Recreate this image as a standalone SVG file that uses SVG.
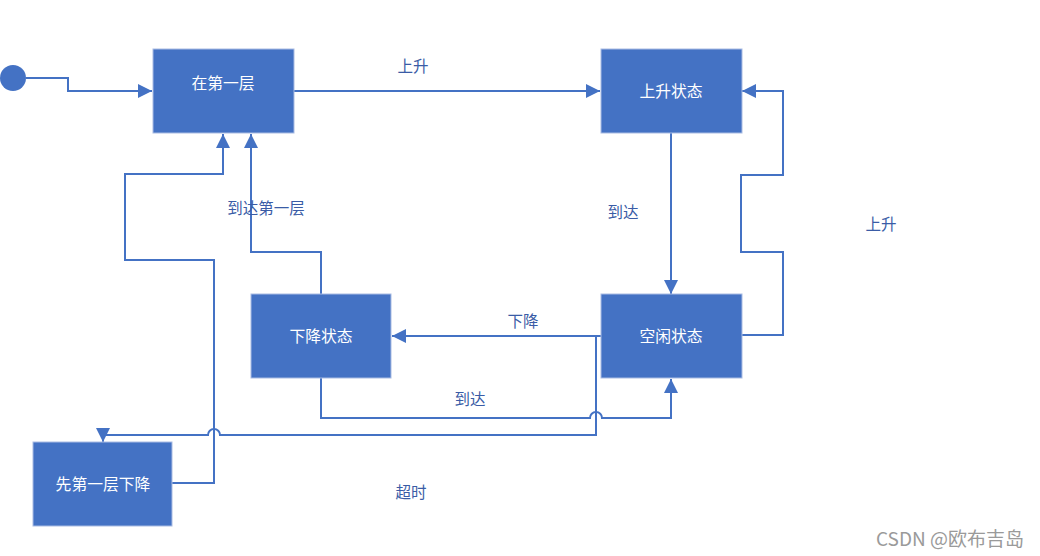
<svg xmlns="http://www.w3.org/2000/svg" width="1040" height="556" viewBox="0 0 1040 556">
<defs>
<style>
.box{fill:#4472C4;stroke:#A9BCE3;stroke-width:1}
.bt{fill:#fff;font-family:"Noto Sans CJK SC","Liberation Sans",sans-serif;font-size:15.8px;text-anchor:middle;dominant-baseline:central}
.lbl{fill:#3A5CA6;font-family:"Noto Sans CJK SC","Liberation Sans",sans-serif;font-size:15.5px;text-anchor:middle;dominant-baseline:central}
.ln{fill:none;stroke:#4472C4;stroke-width:2}
.wm{fill:#9a9a9a;font-family:"Noto Sans CJK SC","Liberation Sans",sans-serif;font-size:19px;text-anchor:middle;dominant-baseline:central}
</style>
<marker id="ah" viewBox="0 0 14 14" refX="14" refY="7" markerWidth="14" markerHeight="14" markerUnits="userSpaceOnUse" orient="auto">
<path d="M0,0 L14,7 L0,14 Z" fill="#4472C4"/>
</marker>
</defs>
<rect width="1040" height="556" fill="#fff"/>
<g id="start"><circle cx="13" cy="78" r="13" fill="#4472C4"/></g>
<g id="connectors">
<path class="ln" d="M26,78 H68 V91 H152" marker-end="url(#ah)"/>
<path class="ln" d="M294,91 H600" marker-end="url(#ah)"/>
<path class="ln" d="M671,133 V294" marker-end="url(#ah)"/>
<path class="ln" d="M742,335 H783 V252 H741 V175 H783 V91 H742" marker-end="url(#ah)"/>
<path class="ln" d="M601,336 H392" marker-end="url(#ah)"/>
<path class="ln" d="M321,294 V252 H251 V134" marker-end="url(#ah)"/>
<path class="ln" d="M172,483 H214 V260 H125 V174 H223 V134" marker-end="url(#ah)"/>
<path class="ln" d="M601,336 H596 V435 H220 A6,6 0 0 0 208,435 H103 V442" marker-end="url(#ah)"/>
<path class="ln" d="M321,378 V418 H590 A6,6 0 0 1 602,418 H671 V379" marker-end="url(#ah)"/>
</g>
<g id="n1"><rect class="box" x="153" y="49" width="141" height="84"/><text class="bt" x="223" y="82">在第一层</text></g>
<g id="n2"><rect class="box" x="601" y="49" width="141" height="84"/><text class="bt" x="671" y="90">上升状态</text></g>
<g id="n3"><rect class="box" x="601" y="294" width="141" height="84"/><text class="bt" x="671" y="335">空闲状态</text></g>
<g id="n4"><rect class="box" x="251" y="294" width="140" height="84"/><text class="bt" x="321" y="335">下降状态</text></g>
<g id="n5"><rect class="box" x="33" y="442" width="139" height="84"/><text class="bt" x="103" y="483">先第一层下降</text></g>
<g id="labels">
<text class="lbl" x="413" y="65">上升</text>
<text class="lbl" x="623" y="211">到达</text>
<text class="lbl" x="881" y="223">上升</text>
<text class="lbl" x="523" y="320">下降</text>
<text class="lbl" x="266" y="207">到达第一层</text>
<text class="lbl" x="470" y="398">到达</text>
<text class="lbl" x="411" y="491">超时</text>
</g>
<text class="wm" x="950" y="537">CSDN @欧布吉岛</text>
</svg>
